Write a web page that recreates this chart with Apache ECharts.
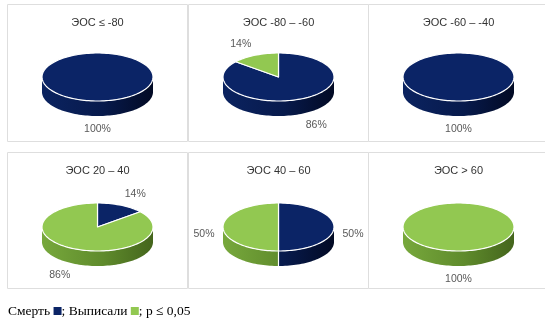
<!DOCTYPE html>
<html>
<head>
<meta charset="utf-8">
<script src="https://cdn.jsdelivr.net/npm/echarts@6/dist/echarts.min.js"></script>
<style>
  html, body { margin: 0; padding: 0; background: #fff; }
  #chart { width: 545px; height: 322px; }
</style>
</head>
<body>
<div id="chart"></div>
<script>
var titles = ['ЭОС ≤ -80', 'ЭОС -80 – -60', 'ЭОС -60 – -40', 'ЭОС 20 – 40', 'ЭОС 40 – 60', 'ЭОС > 60'];
var deathPct = [100, 86, 100, 14, 50, 0];
var dischargedPct = [0, 14, 0, 86, 50, 100];
var seriesNames = ['Смерть', 'Выписали'];

// layout
var panelX = [7, 188, 368];
var panelY = [4, 152];
var panelW = 180;
var panelH = [137, 136];
var rx = 55.5, ry = 24, depth = 15;

var topColors = ['#0b2466', '#92c851'];
var sideStops = [
    [{offset: 0, color: '#0b2360'}, {offset: 0.55, color: '#071a4c'}, {offset: 1, color: '#020a24'}],
    [{offset: 0, color: '#77a83c'}, {offset: 0.55, color: '#5f8b2c'}, {offset: 1, color: '#44651c'}]
];

var chartData = [];
for (var i = 0; i < titles.length; i++) {
    chartData.push([i, deathPct[i], dischargedPct[i]]);
}

function arcPoints(cx, cy, a0, a1, dy) {
    var pts = [];
    var n = Math.max(2, Math.ceil(Math.abs(a1 - a0) / 0.04));
    for (var j = 0; j <= n; j++) {
        var t = a0 + (a1 - a0) * j / n;
        pts.push([cx + rx * Math.cos(t), cy + ry * Math.sin(t) + dy]);
    }
    return pts;
}

function renderItem(params, api) {
    var i = params.dataIndex;
    var col = i % 3, row = Math.floor(i / 3);
    var px = panelX[col], py = panelY[row];
    var cx = px + 90.5, cy = py + (row ? 75 : 73);
    var vals = [api.value(1), api.value(2)];
    var total = vals[0] + vals[1];
    var children = [];

    children.push({
        type: 'rect',
        shape: {x: px + 0.5, y: py + 0.5, width: panelW, height: panelH[row]},
        style: {fill: '#fff', stroke: '#dedede', lineWidth: 1}
    });
    children.push({
        type: 'text',
        style: {
            text: titles[i], x: cx, y: py + 19, align: 'center', verticalAlign: 'middle',
            fontFamily: 'Liberation Sans', fontSize: 11, fill: '#333'
        }
    });

    var slices = [];
    var a = -Math.PI / 2;
    for (var k = 0; k < vals.length; k++) {
        if (!vals[k]) continue;
        var a1 = a + vals[k] / total * Math.PI * 2;
        slices.push({k: k, v: vals[k], a0: a, a1: a1});
        a = a1;
    }
    var whole = slices.length === 1;

    // front side walls
    slices.forEach(function (s) {
        var s0 = Math.max(s.a0, 0), s1 = Math.min(s.a1, Math.PI);
        if (s1 <= s0) return;
        var upper = arcPoints(cx, cy, s0, s1, 0);
        var lower = arcPoints(cx, cy, s0, s1, depth).reverse();
        children.push({
            type: 'polygon',
            shape: {points: upper.concat(lower)},
            style: {
                fill: new echarts.graphic.LinearGradient(cx - rx, 0, cx + rx, 0, sideStops[s.k], true)
            }
        });
    });

    // top faces
    slices.forEach(function (s) {
        var pts = arcPoints(cx, cy, s.a0, s.a1, 0);
        if (!whole) pts = [[cx, cy]].concat(pts);
        children.push({
            type: 'polygon',
            shape: {points: pts},
            style: {fill: topColors[s.k], stroke: '#fff', lineWidth: 1.2, lineJoin: 'round'}
        });
    });

    // white seams on the side between slices
    if (!whole) {
        slices.forEach(function (s) {
            var t = s.a1;
            if (t > 0 && t < Math.PI) {
                var x = cx + rx * Math.cos(t), y = cy + ry * Math.sin(t);
                children.push({
                    type: 'line',
                    shape: {x1: x, y1: y, x2: x, y2: y + depth},
                    style: {stroke: '#fff', lineWidth: 1.2}
                });
            }
        });
    }

    // data labels
    slices.forEach(function (s) {
        var m = (s.a0 + s.a1) / 2;
        var c = Math.cos(m), sn = Math.sin(m);
        var ax = cx + 64 * c, ay = cy + depth / 2 + 39 * sn;
        children.push({
            type: 'text',
            style: {
                text: s.v + '%', x: ax, y: ay,
                align: c > 0.1 ? 'left' : (c < -0.1 ? 'right' : 'center'),
                verticalAlign: sn > 0.1 ? 'top' : (sn < -0.1 ? 'bottom' : 'middle'),
                fontFamily: 'Liberation Sans', fontSize: 10.5, fill: '#595959'
            }
        });
    });

    return {type: 'group', children: children};
}

var chart = echarts.init(document.getElementById('chart'));
chart.setOption({
    backgroundColor: '#fff',
    animation: false,
    graphic: [{
        type: 'text',
        left: 8,
        top: 304,
        style: {
            text: '{t|' + seriesNames[0] + ' }{n|}{t|; ' + seriesNames[1] + ' }{g|}{t|; p ≤ 0,05}',
            rich: {
                t: {fontFamily: 'Liberation Serif', fontSize: 13.5, fill: '#000'},
                n: {backgroundColor: '#0b2466', width: 8, height: 8},
                g: {backgroundColor: '#92c851', width: 8, height: 8}
            }
        }
    }],
    series: [{
        type: 'custom',
        coordinateSystem: 'none',
        renderItem: renderItem,
        data: chartData
    }]
});
</script>
</body>
</html>
